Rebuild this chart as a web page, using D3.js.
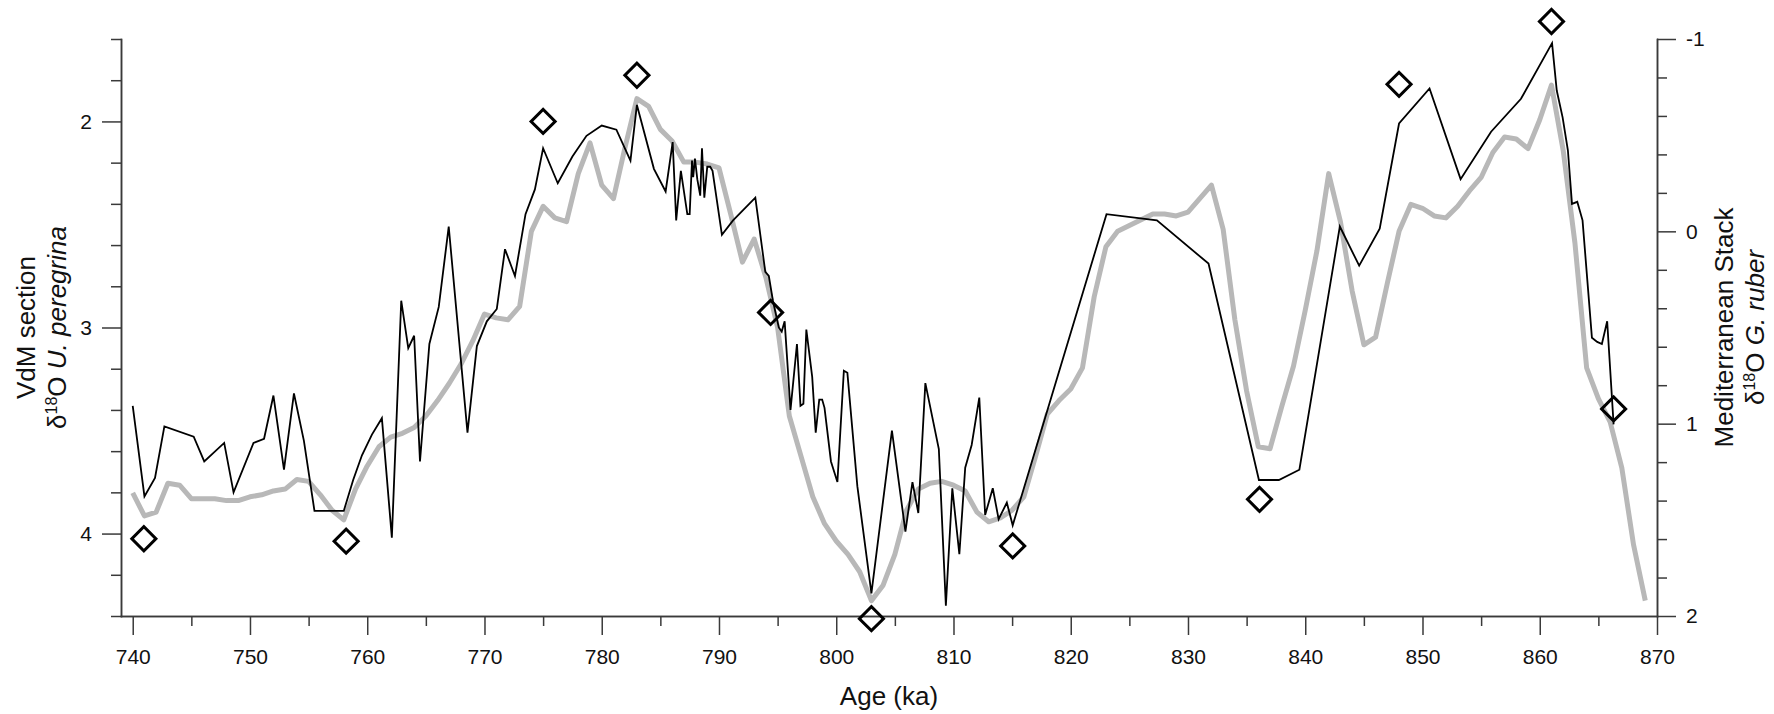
<!DOCTYPE html>
<html>
<head>
<meta charset="utf-8">
<script src="https://cdn.jsdelivr.net/npm/d3@7"></script>
<style>
body { margin: 0; background: #fff; }
svg { display: block; font-family: "Liberation Sans", Arial, sans-serif; }
.axis path, .axis line { stroke: #3a3a3a; stroke-width: 1.5; }
.axis text { font-size: 21px; fill: #111; font-family: "Liberation Sans", Arial, sans-serif; }
.title { font-size: 26px; fill: #111; }
</style>
</head>
<body>
<svg id="chart" width="1774" height="714"></svg>
<script>
"use strict";

// VdM section, d18O U. peregrina (left axis)
var vdmAge = [740.0, 741.0, 741.9, 742.7, 745.2, 746.1, 747.8, 748.6, 750.3, 751.2,
    752.0, 752.9, 753.75, 754.6, 755.5, 758.0, 758.8, 759.55, 760.4, 761.25,
    762.1, 762.9, 763.5, 764.0, 764.5, 765.3, 766.1, 766.95, 768.55, 769.35,
    770.2, 771.05, 771.75, 772.6, 773.5, 774.3, 775.0, 776.25, 777.5, 778.7,
    780.0, 781.25, 782.45, 783.0, 784.45, 785.45, 786.05, 786.35, 786.75, 787.3,
    787.5, 787.7, 787.8, 787.95, 788.15, 788.4, 788.55, 788.75, 789.0, 789.25,
    789.45, 790.25, 791.2, 793.1, 793.95, 794.25, 794.6, 795.1, 795.35, 795.6,
    796.1, 796.65, 796.95, 797.2, 797.45, 797.95, 798.25, 798.55, 798.8, 799.0,
    799.55, 800.1, 800.65, 800.95, 801.8, 803.0, 804.75, 805.9, 806.5, 807.0,
    807.6, 808.75, 809.35, 809.9, 810.5, 811.0, 811.55, 812.2, 812.7, 813.35,
    813.85, 814.55, 815.05, 823.05, 827.35, 831.75, 836.05, 837.75, 839.5, 842.95,
    844.6, 846.35, 848.0, 850.6, 853.25, 855.85, 858.4, 861.05, 861.45, 861.95,
    862.4, 862.75, 863.2, 863.65, 864.45, 864.9, 865.3, 865.75, 866.3];
var vdmD18O = [3.38, 3.82, 3.73, 3.48, 3.53, 3.65, 3.56, 3.80, 3.56, 3.54,
    3.33, 3.69, 3.32, 3.55, 3.89, 3.89, 3.74, 3.62, 3.52, 3.44,
    4.02, 2.87, 3.10, 3.04, 3.65, 3.08, 2.90, 2.51, 3.51, 3.09,
    2.97, 2.91, 2.62, 2.75, 2.45, 2.33, 2.13, 2.30, 2.17, 2.07,
    2.02, 2.04, 2.19, 1.92, 2.23, 2.34, 2.10, 2.48, 2.24, 2.45,
    2.45, 2.19, 2.27, 2.18, 2.28, 2.36, 2.13, 2.37, 2.22, 2.22,
    2.24, 2.55, 2.48, 2.37, 2.73, 2.75, 2.87, 3.00, 3.02, 2.97,
    3.40, 3.08, 3.38, 3.37, 3.01, 3.24, 3.51, 3.35, 3.35, 3.39,
    3.65, 3.75, 3.21, 3.22, 3.77, 4.29, 3.50, 3.99, 3.75, 3.90,
    3.27, 3.59, 4.35, 3.78, 4.10, 3.68, 3.57, 3.34, 3.91, 3.78,
    3.93, 3.85, 3.96, 2.45, 2.48, 2.69, 3.74, 3.74, 3.69, 2.51,
    2.70, 2.52, 2.01, 1.84, 2.28, 2.05, 1.89, 1.62, 1.85, 1.98,
    2.14, 2.40, 2.39, 2.48, 3.05, 3.07, 3.08, 2.97, 3.47];

// Mediterranean Stack, d18O G. ruber (right axis)
var stackAge = [740, 741, 742, 743, 744, 745, 746, 747, 748, 749,
    750, 751, 752, 753, 754, 755, 756, 757, 758, 759,
    760, 761, 762, 763, 764, 765, 766, 767, 768, 769,
    770, 771, 772, 773, 774, 775, 776, 777, 778, 779,
    780, 781, 782, 783, 784, 785, 786, 787, 788, 789,
    790, 791, 792, 793, 794, 795, 796, 797, 798, 799,
    800, 801, 802, 803, 804, 805, 806, 807, 808, 809,
    810, 811, 812, 813, 814, 815, 816, 817, 818, 819,
    820, 821, 822, 823, 824, 825, 826, 827, 828, 829,
    830, 831, 832, 833, 834, 835, 836, 837, 838, 839,
    840, 841, 842, 843, 844, 845, 846, 847, 848, 849,
    850, 851, 852, 853, 854, 855, 856, 857, 858, 859,
    860, 861, 862, 863, 864, 865, 866, 867, 868, 869];
var stackD18O = [1.36, 1.48, 1.46, 1.31, 1.32, 1.39, 1.39, 1.39, 1.40, 1.40,
    1.38, 1.37, 1.35, 1.34, 1.29, 1.30, 1.37, 1.45, 1.50, 1.34,
    1.22, 1.12, 1.07, 1.05, 1.02, 0.96, 0.88, 0.79, 0.69, 0.57,
    0.43, 0.45, 0.46, 0.39, 0.00, -0.13, -0.07, -0.05, -0.30, -0.46,
    -0.24, -0.17, -0.44, -0.69, -0.65, -0.53, -0.47, -0.36, -0.36, -0.35,
    -0.33, -0.09, 0.16, 0.04, 0.24, 0.50, 0.96, 1.17, 1.38, 1.52,
    1.61, 1.68, 1.77, 1.92, 1.84, 1.68, 1.45, 1.34, 1.31, 1.30,
    1.32, 1.35, 1.46, 1.51, 1.49, 1.45, 1.38, 1.17, 0.95, 0.88,
    0.82, 0.71, 0.34, 0.08, 0.00, -0.03, -0.06, -0.09, -0.09, -0.08,
    -0.10, -0.17, -0.24, -0.01, 0.46, 0.83, 1.12, 1.13, 0.91, 0.70,
    0.41, 0.10, -0.30, -0.05, 0.31, 0.59, 0.55, 0.27, 0.00, -0.14,
    -0.12, -0.08, -0.07, -0.13, -0.21, -0.28, -0.41, -0.49, -0.48, -0.43,
    -0.58, -0.76, -0.42, 0.06, 0.71, 0.87, 0.99, 1.23, 1.63, 1.92];

// tie points (diamonds), on the left axis scale
var tieAge = [740.95, 758.2, 775.0, 783.0, 794.4, 803.0, 815.05, 836.1, 848.0, 861.0, 866.3];
var tieD18O = [4.025, 4.037, 2.0, 1.776, 2.927, 4.413, 4.06, 3.834, 1.82, 1.515, 3.395];

var xMajorTicks = [740, 750, 760, 770, 780, 790, 800, 810, 820, 830, 840, 850, 860, 870];
var xMinorTicks = [745, 755, 765, 775, 785, 795, 805, 815, 825, 835, 845, 855, 865];
var leftMajorTicks = [2, 3, 4];
var leftMinorTicks = [1.6, 1.8, 2.2, 2.4, 2.6, 2.8, 3.2, 3.4, 3.6, 3.8, 4.2, 4.4];
var rightMajorTicks = [-1, 0, 1, 2];
var rightMinorTicks = [-0.8, -0.6, -0.4, -0.2, 0.2, 0.4, 0.6, 0.8, 1.2, 1.4, 1.6, 1.8];

var svg = d3.select('#chart');
var plotLeft = 121, plotRight = 1657, plotTop = 39, plotBottom = 616;

var x = d3.scaleLinear().domain([739, 870]).range([plotLeft, plotRight]);
var yL = d3.scaleLinear().domain([1.6, 4.4]).range([plotTop, plotBottom]);
var yR = d3.scaleLinear().domain([-1, 2]).range([plotTop, plotBottom]);
var plain = function (d) { return String(d); };

// bottom axis
svg.append('g').attr('class', 'axis')
    .attr('transform', 'translate(0,' + plotBottom + ')')
    .call(d3.axisBottom(x).tickValues(xMinorTicks).tickSize(10).tickSizeOuter(0).tickFormat(''));
svg.append('g').attr('class', 'axis')
    .attr('transform', 'translate(0,' + plotBottom + ')')
    .call(d3.axisBottom(x).tickValues(xMajorTicks).tickSize(19).tickSizeOuter(0)
        .tickPadding(14).tickFormat(plain));

// left axis
svg.append('g').attr('class', 'axis')
    .attr('transform', 'translate(' + plotLeft + ',0)')
    .call(d3.axisLeft(yL).tickValues(leftMinorTicks).tickSize(10).tickSizeOuter(0).tickFormat(''));
svg.append('g').attr('class', 'axis')
    .attr('transform', 'translate(' + plotLeft + ',0)')
    .call(d3.axisLeft(yL).tickValues(leftMajorTicks).tickSize(19).tickSizeOuter(0)
        .tickPadding(10).tickFormat(plain));

// right axis
svg.append('g').attr('class', 'axis')
    .attr('transform', 'translate(' + plotRight + ',0)')
    .call(d3.axisRight(yR).tickValues(rightMinorTicks).tickSize(10).tickSizeOuter(0).tickFormat(''));
svg.append('g').attr('class', 'axis')
    .attr('transform', 'translate(' + plotRight + ',0)')
    .call(d3.axisRight(yR).tickValues(rightMajorTicks).tickSize(19).tickSizeOuter(0)
        .tickPadding(10).tickFormat(plain));

svg.selectAll('.axis .domain').attr('stroke-linecap', 'square');

// stack (grey, right axis)
var stackLine = d3.line()
    .x(function (d) { return x(d[0]); })
    .y(function (d) { return yR(d[1]); });
svg.append('path')
    .datum(d3.zip(stackAge, stackD18O))
    .attr('d', stackLine)
    .attr('fill', 'none')
    .attr('stroke', '#b8b8b8')
    .attr('stroke-width', 5)
    .attr('stroke-linejoin', 'round');

// VdM (black, left axis)
var vdmLine = d3.line()
    .x(function (d) { return x(d[0]); })
    .y(function (d) { return yL(d[1]); });
svg.append('path')
    .datum(d3.zip(vdmAge, vdmD18O))
    .attr('d', vdmLine)
    .attr('fill', 'none')
    .attr('stroke', '#000')
    .attr('stroke-width', 1.8);

// tie points
var diamond = d3.symbol().type(d3.symbolSquare).size(290);
svg.append('g').selectAll('path')
    .data(d3.zip(tieAge, tieD18O))
    .enter().append('path')
    .attr('d', diamond)
    .attr('transform', function (d) {
        return 'translate(' + x(d[0]) + ',' + yL(d[1]) + ') rotate(45)';
    })
    .attr('fill', 'none')
    .attr('stroke', '#000')
    .attr('stroke-width', 3);

// titles
var midY = (plotTop + plotBottom) / 2;
svg.append('text').attr('class', 'title')
    .attr('x', (plotLeft + plotRight) / 2).attr('y', 705)
    .attr('text-anchor', 'middle')
    .text('Age (ka)');

function isoTitle(tx, ty, species) {
    var t = svg.append('text').attr('class', 'title')
        .attr('text-anchor', 'middle')
        .attr('transform', 'translate(' + tx + ',' + ty + ') rotate(-90)');
    t.append('tspan').text('\u03b4');
    t.append('tspan').attr('dy', -9).style('font-size', '16px').text('18');
    t.append('tspan').attr('dy', 9).text('O ');
    t.append('tspan').style('font-style', 'italic').text(species);
}

svg.append('text').attr('class', 'title')
    .attr('text-anchor', 'middle')
    .attr('transform', 'translate(35,' + midY + ') rotate(-90)')
    .text('VdM section');
isoTitle(66, midY, 'U. peregrina');

svg.append('text').attr('class', 'title')
    .attr('text-anchor', 'middle')
    .attr('transform', 'translate(1733,' + midY + ') rotate(-90)')
    .text('Mediterranean Stack');
isoTitle(1764, midY, 'G. ruber');
</script>
</body>
</html>
